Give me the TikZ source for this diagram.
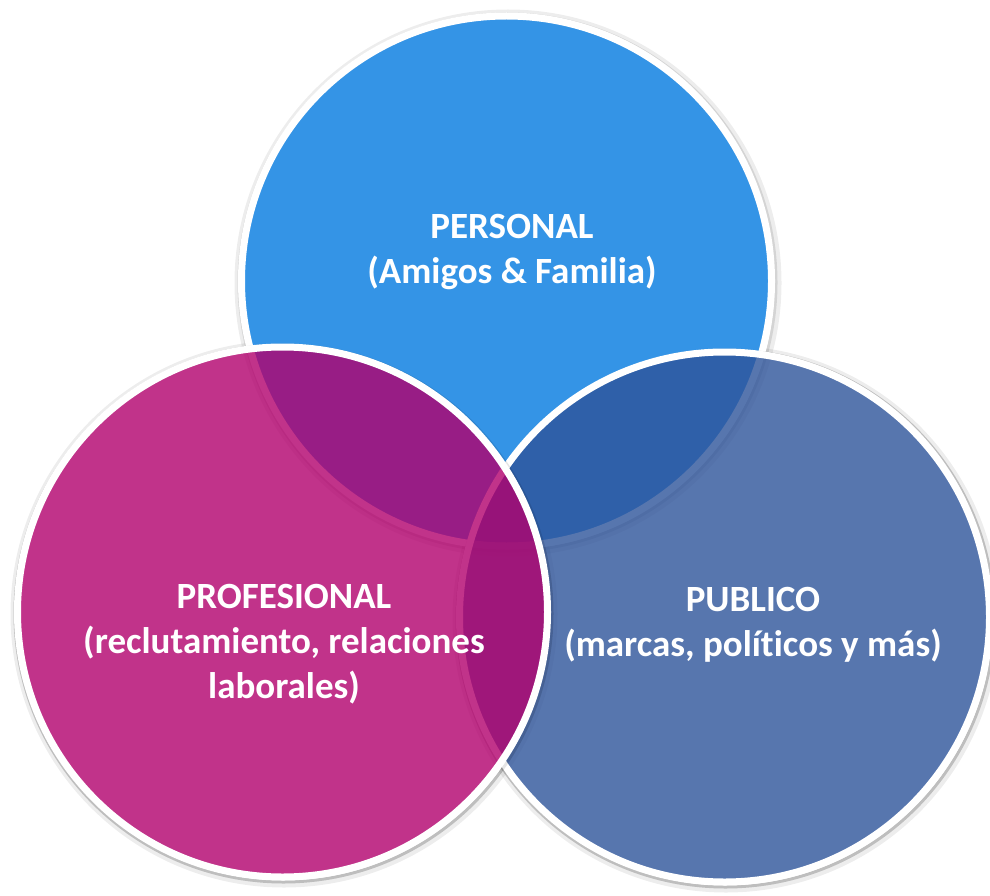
\documentclass[tikz,border=0pt]{standalone}
\usepackage{fontspec}
\setmainfont{Carlito}[Ligatures={NoCommon}]
\definecolor{cblue}{RGB}{52,148,230}
\definecolor{cslate}{RGB}{46,84,154}
\definecolor{cpink}{RGB}{178,0,109}
\begin{document}
\begin{tikzpicture}[x=1pt,y=-1pt,
  venn/.style={circle, minimum size=530pt, inner sep=0pt, outer sep=0pt, draw=white, line width=7pt},
  shade1/.style={draw=black, draw opacity=0.07, line width=7pt},
  shade2/.style={draw=black, draw opacity=0.10, line width=3pt},
  lbl/.style={text=white, font=\bfseries\fontsize{37}{45}\selectfont, align=center, inner sep=0pt}]
\useasboundingbox (0,0) rectangle (990,896);
\fill[white] (0,0) rectangle (990,896);
% shadows
\foreach \cx/\cy in {506.5/281, 724.5/617, 282.5/612}{
  \draw[shade1] (\cx+1.5,\cy+2) circle (270);
  \draw[shade2] (\cx+1,\cy+1.5) circle (268.5);
}
\node[venn, fill=cblue] (per) at (506.5,281) {};
\draw[shade2] (724.5+1,617+1.5) circle (268.5);
\node[venn, fill=cslate, fill opacity=0.8] (pub) at (724.5,617) {};
\draw[shade2] (282.5+1,612+1.5) circle (268.5);
\node[venn, fill=cpink, fill opacity=0.8] (pro) at (282.5,612) {};
\node[lbl, anchor=base] (tper) at (512,283) {PERSONAL\\(Amigos \& Familia)};
\node[lbl, anchor=base] (tpro) at (284,698) {PROFESIONAL\\(reclutamiento, relaciones\\laborales)};
\node[lbl, anchor=base] (tpub) at (753,656) {PUBLICO\\(marcas, políticos y más)};
\end{tikzpicture}
\end{document}
